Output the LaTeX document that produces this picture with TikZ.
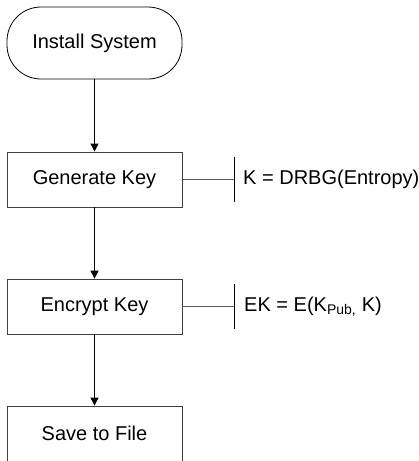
\documentclass[tikz,border=0pt]{standalone}
\usepackage{fontspec}
\setmainfont{Liberation Sans}
\usetikzlibrary{arrows.meta}
\begin{document}
\begin{tikzpicture}[x=1pt,y=-1pt,
  txt/.style={font=\fontsize{20}{23}\selectfont},
  box/.style={txt, draw=black!75, line width=0.8pt, minimum width=175pt, minimum height=55pt, inner sep=0pt},
  term/.style={box, draw=black, rounded corners=34pt, minimum height=72pt},
  flow/.style={draw=black, line width=0.8pt, -{Triangle[width=8pt,length=8pt]}},
  link/.style={draw=black!65, line width=0.8pt},
  tickline/.style={draw=black, line width=0.8pt},
  lbl/.style={txt, anchor=west, inner sep=0pt}]
\useasboundingbox (0,0) rectangle (419,461);
\node[term] (install) at (94.5,43) {Install System};
\node[box] (gen) at (94.5,179.5) {Generate Key};
\node[box] (enc) at (94.5,306.5) {Encrypt Key};
\node[box] (save) at (94.5,433.5) {Save to File};
\draw[flow] (install) -- (gen);
\draw[flow] (gen) -- (enc);
\draw[flow] (enc) -- (save);
% annotation 1
\coordinate (t1a) at (234,157);
\coordinate (t1b) at (234,202);
\draw[tickline] (t1a) -- (t1b);
\draw[link] (gen.east) -- (gen.east -| t1a);
\node[lbl] (k) at (243,179.5) {K = DRBG(Entropy)};
% annotation 2
\coordinate (t2a) at (234,284);
\coordinate (t2b) at (234,329);
\draw[tickline] (t2a) -- (t2b);
\draw[link] (enc.east) -- (enc.east -| t2a);
\node[lbl] (ek) at (244,306.5) {EK = E(K\textsubscript{Pub,} K)};
\end{tikzpicture}
\end{document}
